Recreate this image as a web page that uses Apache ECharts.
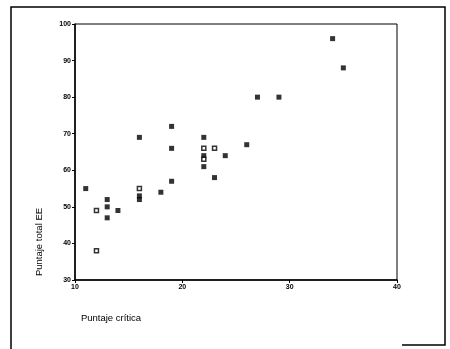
<!DOCTYPE html>
<html><head><meta charset="utf-8">
<script src="https://cdn.jsdelivr.net/npm/echarts@6/dist/echarts.min.js"></script>
<style>html,body{margin:0;padding:0;background:#fff}#c{width:450px;height:349px}</style>
</head><body><div id="c"></div>
<script>
// Filled markers [Puntaje crítica, Puntaje total EE]
const filledX = [11, 13, 13, 13, 14, 16, 16, 16, 18, 19, 19, 19, 22, 22, 22, 23, 24, 26, 27, 29, 34, 35];
const filledY = [55, 52, 50, 47, 49, 69, 53, 52, 54, 72, 66, 57, 69, 64, 61, 58, 64, 67, 80, 80, 96, 88];
// Hollow markers
const hollowX = [12, 12, 16, 22, 22, 23];
const hollowY = [49, 38, 55, 66, 63, 66];
const xTicks = [10, 20, 30, 40];
const yTicks = [30, 40, 50, 60, 70, 80, 90, 100];

const pair = (xs, ys) => xs.map((x, i) => [x, ys[i]]);
const font = 'Liberation Sans';
const chart = echarts.init(document.getElementById('c'));
chart.setOption({
  animation: false,
  backgroundColor: '#fff',
  grid: { left: 75, right: 53, top: 24, bottom: 69, show: true, borderColor: '#000', borderWidth: 1 },
  xAxis: {
    type: 'value', min: xTicks[0], max: xTicks[xTicks.length - 1], interval: 10,
    name: 'Puntaje crítica', nameLocation: 'middle', nameGap: 33,
    nameTextStyle: { fontFamily: font, fontSize: 9.5, color: '#000', padding: [0, 250, 0, 0] },
    axisLine: { lineStyle: { color: '#000', width: 1.5 } },
    axisTick: { show: true, length: 3, lineStyle: { color: '#000' } },
    axisLabel: { fontFamily: font, fontSize: 7, fontWeight: 'bold', color: '#000', margin: 4 },
    splitLine: { show: false }
  },
  yAxis: {
    type: 'value', min: yTicks[0], max: yTicks[yTicks.length - 1], interval: 10,
    name: 'Puntaje total EE', nameLocation: 'middle', nameGap: 31, nameRotate: 90,
    nameTextStyle: { fontFamily: font, fontSize: 9.5, color: '#000', padding: [0, 180, 0, 0] },
    axisLine: { show: true, lineStyle: { color: '#000', width: 1.5 } },
    axisTick: { show: true, length: 3, lineStyle: { color: '#000' } },
    axisLabel: { fontFamily: font, fontSize: 7, fontWeight: 'bold', color: '#000', margin: 4 },
    splitLine: { show: false }
  },
  series: [
    { type: 'scatter', data: pair(filledX, filledY), symbol: 'rect', symbolSize: 5,
      itemStyle: { color: '#000' } },
    { type: 'scatter', data: pair(hollowX, hollowY), symbol: 'rect', symbolSize: 4,
      itemStyle: { color: '#fff', borderColor: '#000', borderWidth: 1.5 } }
  ],
  graphic: [
    { type: 'polyline', shape: { points: [[11, 349], [11, 7], [445, 7], [445, 345], [402, 345]] },
      style: { stroke: '#000', lineWidth: 1.5, fill: null }, silent: true }
  ]
});
</script></body></html>
